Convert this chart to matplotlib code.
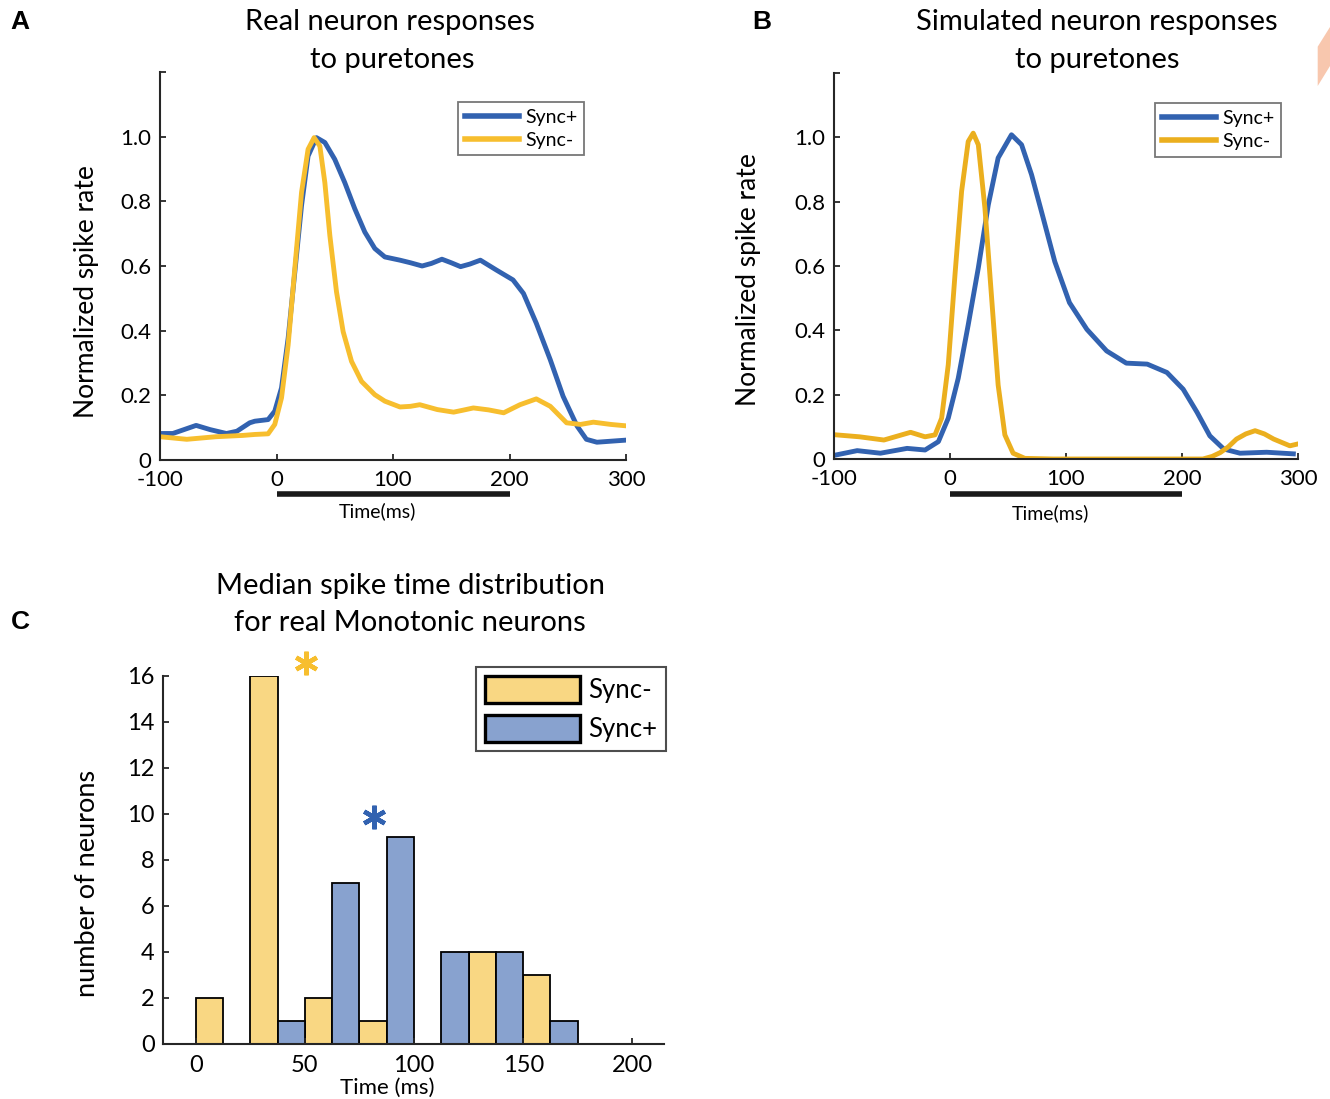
import numpy as np
import matplotlib
matplotlib.use("Agg")
import matplotlib.pyplot as plt
from matplotlib.patches import Polygon

plt.rcParams['font.family'] = ['Lato', 'DejaVu Sans']
plt.rcParams['axes.unicode_minus'] = False

# ---- data ----
# Panel A: real neuron responses (time in ms, normalized rate)
a_plus_t = [-100, -89, -69, -57, -43, -34, -23, -18.6, -7.2, -1.5, 4.3, 10, 15.7, 21.5, 27.1,
            34.3, 41.5, 50, 58.6, 67.2, 75.8, 84.4, 93, 106, 115, 125, 133, 142, 150, 158, 166,
            175, 189, 203, 212, 223, 235, 246, 258, 266, 275, 302]
a_plus_y = [0.082, 0.082, 0.107, 0.094, 0.082, 0.089, 0.115, 0.12, 0.125, 0.151, 0.223, 0.377,
            0.58, 0.787, 0.94, 0.997, 0.982, 0.93, 0.858, 0.777, 0.705, 0.654, 0.628, 0.618,
            0.61, 0.60, 0.608, 0.621, 0.61, 0.598, 0.606, 0.618, 0.587, 0.557, 0.515, 0.423,
            0.31, 0.197, 0.105, 0.064, 0.055, 0.062]
a_minus_t = [-100, -77, -52, -29, -18.6, -7.2, -1.5, 4.3, 10, 15.7, 21.5, 27.1, 32.3, 37.2,
             41.5, 45.8, 51.5, 57.2, 64.4, 73, 84.4, 93, 106, 115, 123, 138, 152, 160, 169, 182,
             195, 209, 223, 235, 249, 261, 272, 287, 302]
a_minus_y = [0.072, 0.064, 0.072, 0.076, 0.079, 0.081, 0.11, 0.192, 0.356, 0.592, 0.828, 0.961,
             0.997, 0.971, 0.858, 0.694, 0.52, 0.397, 0.305, 0.243, 0.202, 0.182, 0.164, 0.166,
             0.171, 0.156, 0.148, 0.154, 0.161, 0.155, 0.146, 0.171, 0.189, 0.166, 0.115, 0.11,
             0.117, 0.11, 0.105]

# Panel B: simulated neuron responses
b_plus_t = [-99, -80, -60, -37, -21.5, -10, -1.5, 7.1, 15.7, 24.4, 33, 41.5, 53, 61.7, 70.3,
            78.8, 90.3, 103, 118, 135, 152, 170, 187, 201, 213, 224, 236, 250, 273, 296]
b_plus_y = [0.012, 0.026, 0.018, 0.033, 0.028, 0.054, 0.127, 0.251, 0.417, 0.594, 0.79, 0.936,
            1.008, 0.977, 0.884, 0.77, 0.614, 0.486, 0.403, 0.336, 0.298, 0.295, 0.269, 0.217,
            0.145, 0.072, 0.031, 0.018, 0.021, 0.016]
b_minus_t = [-98, -78, -57, -34, -21.5, -12.9, -7.2, -1.5, 4.3, 10, 15.7, 20, 24.4, 30.1, 35.9,
             41.5, 47.3, 54.4, 64.5, 89, 150, 218, 226, 233, 240, 247, 255, 263, 271, 279, 293,
             306]
b_minus_y = [0.075, 0.069, 0.059, 0.083, 0.069, 0.075, 0.127, 0.293, 0.573, 0.832, 0.987, 1.013,
             0.977, 0.78, 0.5, 0.23, 0.075, 0.018, 0.002, 0, 0, 0, 0.008, 0.02, 0.038, 0.062,
             0.078, 0.088, 0.078, 0.062, 0.041, 0.052]

# Panel C: median spike time histogram (25 ms bins)
bin_starts = [0, 25, 50, 75, 100, 125, 150]
bin_width = 25
c_minus = [2, 16, 2, 1, 0, 4, 3]
c_plus = [0, 1, 7, 9, 4, 4, 1]
star_minus = (50.6, 16.55)
star_plus = (81.8, 9.85)

BLUE = '#3262B0'
YEL_A = '#F7BE2E'
YEL_B = '#EBAF1E'
BAR_Y = '#F9D783'
BAR_B = '#88A2CF'
DARK = '#262626'

W, H = 1330, 1099
fig = plt.figure(figsize=(W / 100, H / 100), dpi=100)


def px_axes(x0, y0, x1, y1):
    return fig.add_axes([x0 / W, 1 - y1 / H, (x1 - x0) / W, (y1 - y0) / H])


def style(ax, fs=17, xpad=6):
    for s in ['top', 'right']:
        ax.spines[s].set_visible(False)
    for s in ['left', 'bottom']:
        ax.spines[s].set_linewidth(1.5)
        ax.spines[s].set_color(DARK)
    ax.tick_params(direction='in', length=4, width=1.3, colors=DARK, labelsize=fs,
                   labelcolor='black', pad=6)
    ax.tick_params(axis='x', pad=xpad)


def line_panel(ax, tp, yp, tm, ym, ycol, bar_y, leg_anchor):
    ax.plot(tp, yp, color=BLUE, lw=3.5, solid_joinstyle='round', label='Sync+')
    ax.plot(tm, ym, color=ycol, lw=3.5, solid_joinstyle='round', label='Sync-')
    ax.set_xlim(-100, 300)
    ax.set_ylim(0, 1.2)
    ax.set_xticks([-100, 0, 100, 200, 300])
    ax.set_xticklabels(['-100', '0', '100', '200', '300'])
    ax.set_yticks([0, 0.2, 0.4, 0.6, 0.8, 1.0, 1.2])
    ax.set_yticklabels(['0', '0.2', '0.4', '0.6', '0.8', '1.0', ''])
    style(ax, fs=16, xpad=7.5)
    ax.plot([0, 200], [bar_y, bar_y], color='#1a1a1a', lw=4, clip_on=False,
            solid_capstyle='butt')
    ax.set_xlabel('Time(ms)', fontsize=14)
    ax.set_ylabel('Normalized spike rate', fontsize=19)
    leg = ax.legend(loc='upper left', bbox_to_anchor=leg_anchor, fontsize=14,
                    handlelength=2.8, frameon=True, fancybox=False, borderpad=0.35,
                    labelspacing=0.3, handletextpad=0.3, borderaxespad=0)
    leg.get_frame().set_edgecolor('#555555')
    leg.get_frame().set_linewidth(1.3)
    for ln in leg.get_lines():
        ln.set_linewidth(4)


# ---- Panel A ----
axA = px_axes(160, 72, 626, 460)
line_panel(axA, a_plus_t, a_plus_y, a_minus_t, a_minus_y, YEL_A, -0.104, (0.639, 0.923))
axA.xaxis.set_label_coords(0.466, -0.11)
axA.yaxis.set_label_coords(-0.13, 0.433)
fig.text(390 / W, 1 - 22 / H, 'Real neuron responses', ha='center', va='center', fontsize=21)
fig.text(392 / W, 1 - 60 / H, 'to puretones', ha='center', va='center', fontsize=21)

# ---- Panel B ----
axB = px_axes(834, 73, 1298, 459)
line_panel(axB, b_plus_t, b_plus_y, b_minus_t, b_minus_y, YEL_B, -0.11, (0.692, 0.922))
axB.xaxis.set_label_coords(0.466, -0.116)
axB.yaxis.set_label_coords(-0.158, 0.464)
fig.text(1097 / W, 1 - 22 / H, 'Simulated neuron responses', ha='center', va='center', fontsize=21)
fig.text(1097 / W, 1 - 60 / H, 'to puretones', ha='center', va='center', fontsize=21)

# ---- Panel C ----
axC = px_axes(163, 676, 664, 1044)
half = bin_width / 2
axC.bar(bin_starts, c_minus, width=half, align='edge', color=BAR_Y, edgecolor='black',
        linewidth=1.3, label='Sync-')
axC.bar([b + half for b in bin_starts], c_plus, width=half, align='edge', color=BAR_B,
        edgecolor='black', linewidth=1.3, label='Sync+')
axC.set_xlim(-15, 214.5)
axC.set_ylim(0, 16)
axC.set_xticks([0, 50, 100, 150, 200])
axC.set_yticks(range(0, 17, 2))
style(axC, fs=17, xpad=8)
axC.set_xlabel('Time (ms)', fontsize=16)
axC.xaxis.set_label_coords(0.447, -0.092)
axC.set_ylabel('number of neurons', fontsize=19.5)
axC.yaxis.set_label_coords(-0.125, 0.435)
axC.plot(*star_minus, marker=(6, 2, 0), ms=17, mew=3.2, color=YEL_A, clip_on=False)
axC.plot(*star_plus, marker=(6, 2, 0), ms=17, mew=3.2, color=BLUE, clip_on=False)
legC = axC.legend(loc='upper left', bbox_to_anchor=(0.625, 1.025), fontsize=18.5,
                  handlelength=3.7, handleheight=1.25, frameon=True, fancybox=False,
                  borderpad=0.35, labelspacing=0.45, handletextpad=0.3, borderaxespad=0)
legC.get_frame().set_edgecolor('#222222')
legC.get_frame().set_linewidth(1.5)
for p in legC.get_patches():
    p.set_linewidth(2.4)
fig.text(410 / W, 1 - 586 / H, 'Median spike time distribution', ha='center', va='center',
         fontsize=21)
fig.text(410 / W, 1 - 623 / H, 'for real Monotonic neurons', ha='center', va='center',
         fontsize=21)

# panel letters
for lab, x, y in [('A', 20, 22), ('B', 762, 22), ('C', 20, 622)]:
    fig.text(x / W, 1 - y / H, lab, ha='center', va='center', fontsize=19,
             fontweight='bold', family='Liberation Sans')

# corner decoration
fig.patches.append(Polygon([(1317.7 / W, 1 - 46.7 / H), (1.0, 1 - 27 / H), (1.0, 1 - 66 / H),
                            (1317.7 / W, 1 - 86 / H)], closed=True, transform=fig.transFigure,
                           facecolor='#F8C7AE', edgecolor='none'))

fig.savefig('out.png', dpi=100)
